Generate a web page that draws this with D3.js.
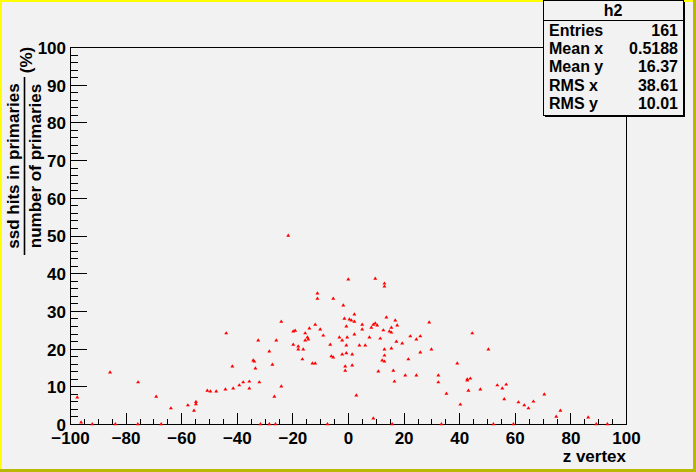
<!DOCTYPE html>
<html><head><meta charset="utf-8">
<script src="https://cdn.jsdelivr.net/npm/d3@7"></script>
<style>
html,body{margin:0;padding:0;background:#f2f2f2;}
svg{display:block;}
text{font-family:"Liberation Sans",Arial,Helvetica,sans-serif;font-weight:bold;fill:#000;}
</style></head>
<body>
<svg id="c" width="696" height="472"></svg>
<script>
// ---- data (z vertex, percentage) ----
const zVertex = [
 -97.4,-96.0,-92.0,-85.6,-83.7,-75.6,-75.5,-69.0,-67.2,-63.7,-57.6,-55.4,-54.7,-54.7,-50.6,-49.5,-47.4,
 -44.1,-43.8,-41.6,-41.3,-39.1,-37.7,-35.5,-35.5,-34.1,-33.7,-33.3,-32.3,-31.9,-31.5,-28.3,-28.3,-27.2,-26.5,-26.1,
 -25.8,-24.0,-24.0,-21.5,-19.7,-19.7,-19.0,-17.9,-17.9,-16.4,-16.1,-15.4,-15.4,-14.6,-14.3,-13.9,-12.8,-11.8,-11.8,
 -11.0,-11.0,-10.0,-8.9,-7.4,-6.4,-6.0,-5.3,-5.3,-3.1,-2.1,-2.1,-1.7,-1.3,-1.0,-1.0,-0.6,-0.6,-0.6,-0.3,0.1,0.5,1.2,
 1.5,1.5,2.3,2.3,2.3,3.0,4.1,5.1,5.1,6.2,7.7,
 8.4,9.1,9.1,9.8,9.8,10.5,10.9,11.6,12.3,12.7,13.1,13.1,13.1,13.1,13.1,13.8,14.9,15.6,15.6,15.6,15.9,16.3,16.7,17.0,
 17.4,17.7,19.5,20.6,21.7,22.4,24.6,24.6,26.0,26.0,29.2,30.0,32.5,32.5,33.6,35.4,39.3,40.4,42.9,42.9,44.0,43.3,44.7,
 47.6,50.5,52.3,53.7,55.5,56.2,56.9,59.5,61.3,
 63.4,64.9,66.7,70.6,74.9,76.4,86.4,89.3,93.3
];
const ratio = [
 7.1,0.45,0,13.7,0,0,11.1,7.3,0,4.2,5.0,3.6,5.9,5.3,8.9,8.7,8.7,
 9.2,24.1,15.3,9.5,10.3,11.1,11.3,9.5,16.9,16.6,14.8,22.2,11.1,0,19.3,0,15.8,7.3,0,
 22.2,27.2,10.0,50.0,21.1,24.6,24.8,20.6,19.8,17.2,19.8,24.1,22.2,23.0,22.5,25.4,16.1,16.1,26.4,
 34.7,33.3,25.1,23.5,0,21.1,18.0,17.7,33.3,23.0,22.2,18.5,31.5,28.0,15.3,14.2,25.9,20.9,18.8,23.0,38.4,27.8,27.5,
 18.5,15.6,29.1,27.2,23.8,7.6,20.9,26.4,25.1,20.9,23.0,
 25.6,26.4,1.5,38.6,26.7,26.2,14.0,22.7,16.9,24.9,37.3,36.5,19.8,18.2,16.6,28.3,24.6,25.6,24.3,20.1,0,14.2,11.3,27.5,
 21.9,26.2,21.4,12.9,17.2,23.3,22.5,12.9,23.3,19.0,27.0,19.8,12.9,11.1,0,8.1,16.1,5.2,11.9,11.6,12.1,8.9,24.1,
 9.2,19.8,0,10.3,9.5,6.6,10.5,0,5.8,
 5.0,4.2,6.0,7.9,2.0,3.6,1.8,0,0
];
const xTicks = [-100,-80,-60,-40,-20,0,20,40,60,80,100];
const yTicks = [0,10,20,30,40,50,60,70,80,90,100];
const statLabels = ["Entries","Mean x","Mean y","RMS x","RMS y"];
const statValues = ["161","0.5188","16.37","38.61","10.01"];
const histName = "h2";
const xTitle = "z vertex";
const yNum = "ssd hits in primaries";
const yDen = "number of primaries";
const yUnit = "(%)";

const W = 696, H = 472;
const svg = d3.select("#c");
const L = 70, R = 626, T = 47, B = 424;
const x = d3.scaleLinear().domain([-100,100]).range([L,R]);
const y = d3.scaleLinear().domain([0,100]).range([B,T]);

// background
svg.append("rect").attr("width",W).attr("height",H).attr("fill","#f2f2f2");
// bevel border
svg.append("path").attr("d",`M0,0H${W}V2H2V${H}H0Z`).attr("fill","#ffff00");
svg.append("path").attr("d",`M${W},0V${H}H0V${H-3}H${W-3}V0Z`).attr("fill","#b8b800");

// frame
svg.append("rect").attr("x",L).attr("y",T).attr("width",R-L).attr("height",B-T)
  .attr("fill","#f2f2f2").attr("stroke","#000").attr("stroke-width",1).attr("shape-rendering","crispEdges");

// x axis
const xMinor = d3.range(-100,101,5).filter(v=>v%20!==0);
const gx = svg.append("g").attr("transform",`translate(0,${B})`)
  .call(d3.axisBottom(x).tickValues(xTicks).tickSizeInner(-11).tickSizeOuter(0).tickPadding(8).tickFormat(d3.format("d")));
const gxm = svg.append("g").attr("transform",`translate(0,${B})`)
  .call(d3.axisBottom(x).tickValues(xMinor).tickSizeInner(-5.5).tickSizeOuter(0).tickFormat(""));
// y axis
const yMinor = d3.range(0,101,2).filter(v=>v%10!==0);
const gy = svg.append("g").attr("transform",`translate(${L},0)`)
  .call(d3.axisLeft(y).tickValues(yTicks).tickSizeInner(-16.7).tickSizeOuter(0).tickPadding(4).tickFormat(d3.format("d")));
const gym = svg.append("g").attr("transform",`translate(${L},0)`)
  .call(d3.axisLeft(y).tickValues(yMinor).tickSizeInner(-8.3).tickSizeOuter(0).tickFormat(""));
[gx,gxm,gy,gym].forEach(g=>{
  g.select(".domain").attr("stroke","#000").attr("shape-rendering","crispEdges");
  g.selectAll(".tick line").attr("stroke","#000").attr("shape-rendering","crispEdges");
  g.selectAll("text").attr("font-size",17).attr("font-family",null).attr("font-weight","bold").attr("fill","#000");
});
gy.selectAll("text").attr("dy","0.38em");

// points
svg.append("g").selectAll("path").data(zVertex.map((v,i)=>[v,ratio[i]])).join("path")
  .attr("d",d=>{const px=x(d[0]), py=y(d[1]); return `M${px},${py-2}L${px+2},${py+1.2}L${px-2},${py+1.2}Z`;})
  .attr("fill","#ff0000");

// x title
svg.append("text").attr("x",R).attr("y",462).attr("text-anchor","end").attr("font-size",17).text(xTitle);

// y title (fraction)
const yt = svg.append("g").attr("transform","translate(0,166) rotate(-90)");
yt.append("text").attr("x",0).attr("y",19).attr("text-anchor","middle").attr("font-size",17).text(yNum);
yt.append("text").attr("x",0).attr("y",41).attr("text-anchor","middle").attr("font-size",17).text(yDen);
yt.append("line").attr("x1",-89).attr("x2",89).attr("y1",24.5).attr("y2",24.5).attr("stroke","#000").attr("stroke-width",1.6);
svg.append("g").attr("transform","translate(0,60) rotate(-90)")
  .append("text").attr("x",0).attr("y",32).attr("text-anchor","middle").attr("font-size",17).text(yUnit);

// stats box
const bx=543, by=0, bw=140, bh=115;
svg.append("rect").attr("x",bx+2).attr("y",by+2).attr("width",bw).attr("height",bh).attr("fill","#000");
svg.append("rect").attr("x",bx+0.5).attr("y",by+0.5).attr("width",bw).attr("height",bh)
  .attr("fill","#f2f2f2").attr("stroke","#000").attr("stroke-width",1);
svg.append("line").attr("x1",bx).attr("x2",bx+bw).attr("y1",20.5).attr("y2",20.5).attr("stroke","#000");
svg.append("text").attr("x",bx+bw/2).attr("y",16).attr("text-anchor","middle").attr("font-size",16).text(histName);
statLabels.forEach((s,i)=>{
  const ty = 36 + i*18.2;
  svg.append("text").attr("x",bx+6).attr("y",ty).attr("font-size",16).text(s);
  svg.append("text").attr("x",bx+bw-5).attr("y",ty).attr("text-anchor","end").attr("font-size",16).text(statValues[i]);
});
</script>
</body></html>
